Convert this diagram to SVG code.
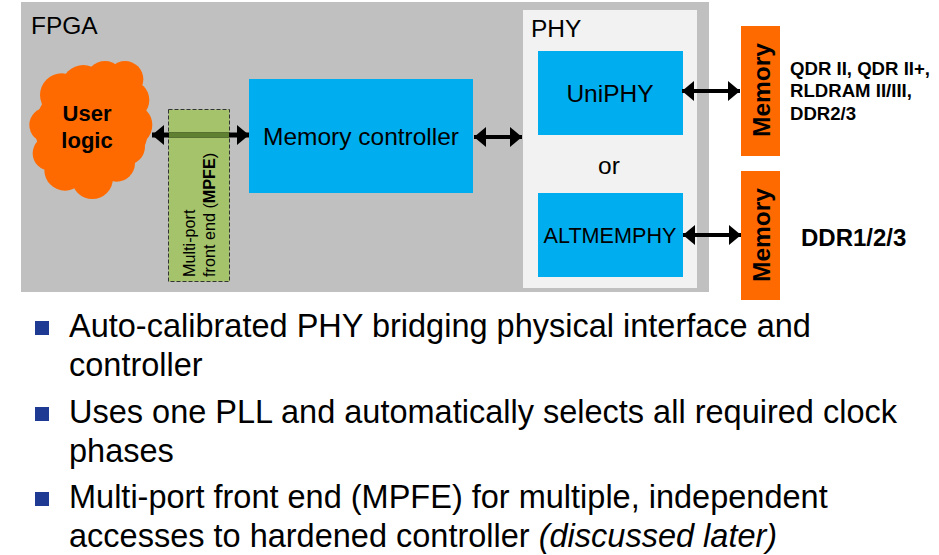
<svg xmlns="http://www.w3.org/2000/svg" width="939" height="555" viewBox="0 0 939 555">
<style>
text{font-family:"Liberation Sans",Arial,sans-serif;fill:#000}
.blue{fill:#00aeef}
.org{fill:#ff6a00}
.lbl{font-size:24.5px}
.bul{font-size:32.500px}
.b{font-weight:bold}
.sq{fill:#1f3a93}
.conn{stroke:#000;stroke-width:4;fill:none;marker-start:url(#a);marker-end:url(#a)}
</style>
<defs>
<marker id="a" viewBox="0 0 12 20" refX="12" refY="10" markerWidth="12" markerHeight="20" markerUnits="userSpaceOnUse" orient="auto-start-reverse"><path d="M0 0L12 10L0 20Z" fill="#000"/></marker>
</defs>
<rect width="939" height="555" fill="#fff"/>
<g id="fpga"><rect x="21" y="2" width="688" height="290" fill="#c0c0c0"/><text x="31" y="34" class="lbl">FPGA</text></g>
<g id="phy"><rect x="523" y="10" width="174" height="278" fill="#f2f2f2"/><text x="531" y="37" class="lbl">PHY</text><text x="609" y="174" class="lbl" text-anchor="middle">or</text></g>
<g id="user-logic">
<g class="org" transform="translate(20 50) scale(.3333)">
<ellipse cx="215" cy="235" rx="170" ry="150"/>
<circle cx="125" cy="135" r="65"/><circle cx="190" cy="110" r="65"/><circle cx="255" cy="90" r="57"/><circle cx="315" cy="88" r="55"/><circle cx="330" cy="150" r="58"/>
<circle cx="335" cy="225" r="62"/><circle cx="320" cy="290" r="55"/><circle cx="290" cy="340" r="55"/>
<circle cx="217" cy="385" r="62"/><circle cx="135" cy="360" r="62"/><circle cx="90" cy="310" r="52"/><circle cx="80" cy="225" r="52"/>
</g>
<text x="87" y="121" class="b" text-anchor="middle" style="font-size:22px">User</text><text x="87" y="148" class="b" text-anchor="middle" style="font-size:22px">logic</text></g>
<g id="mpfe"><rect x="168.500" y="109.500" width="61" height="172" fill="#a4c36a" stroke="#333" stroke-dasharray="4 2"/><text transform="translate(195 277) rotate(-90)" style="font-size:16.200px">Multi-port</text><text transform="translate(215 277) rotate(-90)" style="font-size:16.200px">front end (<tspan class="b">MPFE</tspan>)</text></g>
<g id="memory-controller"><rect class="blue" x="249" y="79" width="224" height="114"/><text x="361" y="145" class="lbl" text-anchor="middle">Memory controller</text></g>
<g id="uniphy"><rect class="blue" x="538" y="51" width="145" height="84"/><text x="610" y="102" class="lbl" text-anchor="middle">UniPHY</text></g>
<g id="altmemphy"><rect class="blue" x="538" y="193" width="145" height="84"/><text x="610" y="243" text-anchor="middle" style="font-size:21.600px">ALTMEMPHY</text></g>
<g id="memory-1"><rect class="org" x="741" y="26" width="39" height="130"/><text transform="translate(770 137) rotate(-90)" class="b" style="font-size:24.500px">Memory</text></g>
<g id="memory-2"><rect class="org" x="741" y="171" width="39" height="129"/><text transform="translate(770 282) rotate(-90)" class="b" style="font-size:24.500px">Memory</text></g>
<g id="connectors">
<path class="conn" style="stroke-width:5" d="M152 135H249"/>
<path d="M169 135H229" stroke="#5f8030" stroke-width="5" fill="none"/>
<path class="conn" d="M474 137H522"/>
<path class="conn" d="M682 91H740"/>
<path class="conn" d="M683 235H741"/>
</g>
<g id="memory-labels">
<text x="790" y="75" class="b" style="font-size:18.600px">QDR II, QDR II+,</text>
<text x="790" y="97" class="b" style="font-size:18.600px">RLDRAM II/III,</text>
<text x="790" y="120" class="b" style="font-size:18.600px">DDR2/3</text>
<text x="801" y="246" class="b" style="font-size:24px">DDR1/2/3</text>
</g>
<g id="bullets">
<rect class="sq" x="35" y="321" width="14" height="14"/>
<text x="69" y="337" class="bul">Auto-calibrated PHY bridging physical interface and</text>
<text x="69" y="376" class="bul">controller</text>
<rect class="sq" x="35" y="407" width="14" height="14"/>
<text x="69" y="423" class="bul">Uses one PLL and automatically selects all required clock</text>
<text x="69" y="462" class="bul">phases</text>
<rect class="sq" x="35" y="492" width="14" height="14"/>
<text x="69" y="508" class="bul">Multi-port front end (MPFE) for multiple, independent</text>
<text x="69" y="547" class="bul">accesses to hardened controller <tspan font-style="italic">(discussed later)</tspan></text>
</g>
</svg>
